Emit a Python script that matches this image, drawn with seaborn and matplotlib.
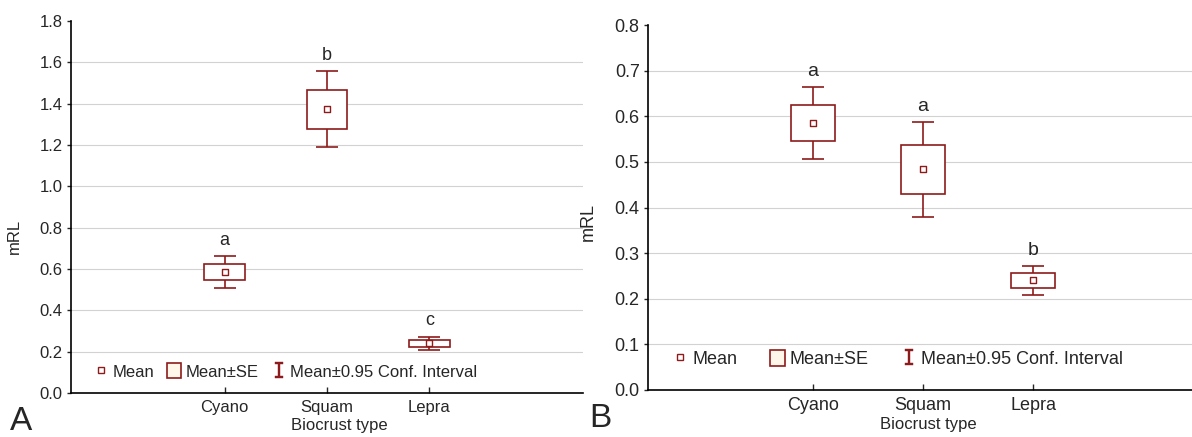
import matplotlib
matplotlib.use('Agg')
import matplotlib.pyplot as plt
import numpy as np
import pandas as pd
import seaborn as sns
from matplotlib.lines import Line2D
from matplotlib.patches import Patch

# dati
categories = ['Cyano', 'Squam', 'Lepra']

mean_a = [0.587, 1.374, 0.241]
se_low_a = [0.545, 1.279, 0.224]
se_high_a = [0.626, 1.467, 0.257]
ci_low_a = [0.507, 1.190, 0.208]
ci_high_a = [0.664, 1.558, 0.273]
letters_a = ['a', 'b', 'c']

mean_b = [0.586, 0.484, 0.241]
se_low_b = [0.545, 0.430, 0.224]
se_high_b = [0.625, 0.536, 0.256]
ci_low_b = [0.506, 0.379, 0.208]
ci_high_b = [0.664, 0.588, 0.272]
letters_b = ['a', 'a', 'b']

RED = '#8e1b1b'

sns.set_style('white')
plt.rcParams['font.family'] = ['Liberation Sans', 'DejaVu Sans']


def draw_panel(ax, mean, se_low, se_high, ci_low, ci_high, letters, ymax, ystep,
               fsize, colspace, ylab_pos, xlab_pos, leg_pos):
    df = pd.DataFrame({'pos': np.arange(len(categories)), 'mean': mean,
                       'se_low': se_low, 'se_high': se_high,
                       'ci_low': ci_low, 'ci_high': ci_high})

    ticks = np.round(np.arange(0, ymax + ystep / 2, ystep), 2)
    for t in ticks[1:-1]:
        ax.axhline(t, color='#d2d2d2', lw=0.8, zorder=0)

    ax.errorbar(df['pos'], df['mean'],
                yerr=[df['mean'] - df['ci_low'], df['ci_high'] - df['mean']],
                fmt='none', ecolor=RED, elinewidth=1.2, capsize=8, capthick=1.2, zorder=2)
    ax.bar(df['pos'], df['se_high'] - df['se_low'], bottom=df['se_low'], width=0.4,
           facecolor='white', edgecolor=RED, linewidth=1.2, zorder=3)
    sns.scatterplot(data=df, x='pos', y='mean', marker='s', s=16, color='white',
                    edgecolor=RED, linewidth=1.0, zorder=4, ax=ax, legend=False)

    for p, top, let in zip(df['pos'], df['ci_high'], letters):
        ax.annotate(let, (p, top), xytext=(0, 8), textcoords='offset points',
                    ha='center', va='baseline', fontsize=fsize + 1)

    ax.set_xlim(-1.5, 3.5)
    ax.set_ylim(0, ymax)
    ax.set_yticks(ticks)
    ax.set_yticklabels([f'{t:.1f}' for t in ticks])
    ax.set_xticks(df['pos'])
    ax.set_xticklabels(categories)
    ax.tick_params(axis='y', direction='out', length=3, width=1, labelsize=fsize, pad=3, left=True)
    ax.tick_params(axis='x', direction='in', length=4, width=1, labelsize=fsize, pad=5, bottom=True)
    for side in ['top', 'right']:
        ax.spines[side].set_visible(False)
    for side in ['left', 'bottom']:
        ax.spines[side].set_color('black')
        ax.spines[side].set_linewidth(1.2)

    ax.set_ylabel('mRL', fontsize=fsize)
    ax.yaxis.set_label_coords(*ylab_pos)
    ax.set_xlabel('Biocrust type', fontsize=12)
    ax.xaxis.set_label_coords(*xlab_pos)

    handles = [
        Line2D([], [], marker='s', ls='none', markersize=4, markerfacecolor='white',
               markeredgecolor=RED, markeredgewidth=1.0),
        Patch(facecolor='#fff6ea', edgecolor=RED, linewidth=1.2),
        Line2D([], [], marker=r'$\mathtt{I}$', ls='none', markersize=11, color=RED,
               markeredgewidth=0.3),
    ]
    ax.legend(handles, ['Mean', 'Mean±SE', 'Mean±0.95 Conf. Interval'], ncol=3,
              loc='lower left', bbox_to_anchor=leg_pos, frameon=False, fontsize=fsize,
              handlelength=0.8, handleheight=1.0, handletextpad=0.3,
              columnspacing=colspace, borderpad=0, borderaxespad=0)


fig = plt.figure(figsize=(11.92, 4.37), dpi=100)
ax_a = fig.add_axes([71 / 1192, 44 / 437, 512 / 1192, 372 / 437])
ax_b = fig.add_axes([648 / 1192, 47 / 437, 550 / 1192, 365 / 437])

draw_panel(ax_a, mean_a, se_low_a, se_high_a, ci_low_a, ci_high_a, letters_a,
           1.8, 0.2, 12, 0.8, (-0.095, 0.42), (0.525, -0.068), (0.045, 0.036))
draw_panel(ax_b, mean_b, se_low_b, se_high_b, ci_low_b, ci_high_b, letters_b,
           0.8, 0.1, 13, 1.8, (-0.093, 0.46), (0.509, -0.074), (0.045, 0.06))

fig.text(10 / 1192, 7 / 437, 'A', fontsize=24, va='baseline')
fig.text(589 / 1192, 10 / 437, 'B', fontsize=24, va='baseline')

fig.savefig('out.png', dpi=100)
